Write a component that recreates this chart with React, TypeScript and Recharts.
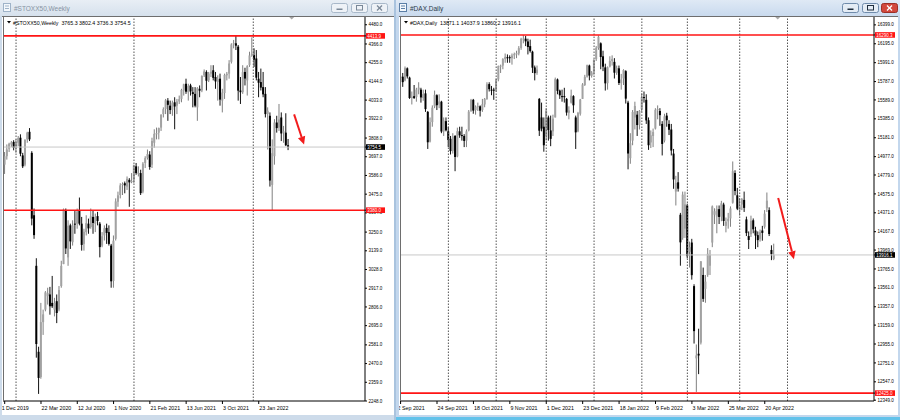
import React from 'react'
import { ComposedChart, Bar, XAxis, YAxis, ReferenceLine } from 'recharts'

type Ohlc = [number, number, number, number] // open, high, low, close

const FONT = '"Liberation Sans", Arial, sans-serif'

// #STOXX50 weekly, week of 1 Dec 2019 .. week of 24 Apr 2022
const stoxxBars: Ohlc[] = [
  [3650, 3725, 3595, 3700], [3700, 3770, 3680, 3740], [3745, 3780, 3725, 3774], [3770, 3790, 3755, 3782], [3785, 3795, 3735, 3750],
  [3750, 3800, 3720, 3780], [3780, 3820, 3760, 3808], [3810, 3830, 3700, 3715], [3705, 3720, 3630, 3640], [3650, 3800, 3640, 3798],
  [3800, 3845, 3780, 3840], [3845, 3867, 3790, 3800], [3720, 3730, 3290, 3330], [3350, 3390, 3210, 3232], [3050, 3095, 2505, 2586],
  [2540, 2570, 2290, 2385], [2390, 2830, 2380, 2716], [2716, 2790, 2640, 2762], [2790, 2900, 2780, 2893], [2870, 2920, 2820, 2888],
  [2880, 2925, 2760, 2810], [2830, 2990, 2800, 2810], [2790, 2860, 2750, 2830], [2840, 2880, 2710, 2770], [2790, 2930, 2780, 2906],
  [2930, 3080, 2920, 3050], [3060, 3390, 3060, 3384], [3380, 3390, 3120, 3153], [3100, 3320, 3050, 3288], [3290, 3300, 3150, 3195],
  [3190, 3320, 3170, 3290], [3300, 3375, 3240, 3296], [3300, 3390, 3270, 3372], [3380, 3455, 3290, 3300], [3300, 3340, 3140, 3174],
  [3180, 3270, 3140, 3252], [3250, 3350, 3230, 3303], [3300, 3330, 3240, 3272], [3280, 3390, 3270, 3343], [3340, 3380, 3240, 3304],
  [3300, 3360, 3250, 3340], [3345, 3370, 3290, 3316], [3300, 3310, 3100, 3161], [3170, 3250, 3160, 3225], [3230, 3290, 3200, 3273],
  [3275, 3300, 3180, 3245], [3250, 3290, 3170, 3180], [3170, 3180, 2920, 2958], [2960, 3230, 2920, 3199], [3210, 3450, 3200, 3432],
  [3430, 3490, 3400, 3468], [3470, 3540, 3450, 3527], [3530, 3545, 3470, 3535], [3540, 3550, 3480, 3527], [3520, 3580, 3500, 3566],
  [3560, 3570, 3400, 3545], [3550, 3600, 3540, 3553], [3560, 3650, 3540, 3645], [3640, 3660, 3590, 3600], [3600, 3640, 3580, 3602],
  [3600, 3620, 3470, 3481], [3490, 3665, 3480, 3656], [3660, 3700, 3630, 3689], [3690, 3740, 3680, 3713], [3710, 3730, 3620, 3636],
  [3650, 3810, 3630, 3790], [3780, 3860, 3750, 3833], [3830, 3870, 3800, 3837], [3840, 3870, 3800, 3867], [3870, 3950, 3850, 3945],
  [3950, 3990, 3930, 3979], [3980, 4040, 3950, 4032], [4030, 4045, 3910, 4005], [4000, 4030, 3950, 3974], [3975, 4030, 3940, 4018],
  [4020, 4050, 3860, 3995], [4000, 4040, 3950, 4025], [4025, 4060, 4010, 4039], [4040, 4100, 4020, 4093], [4090, 4130, 4060, 4127],
  [4130, 4160, 4070, 4083], [4080, 4130, 4030, 4117], [4120, 4130, 4060, 4084], [4080, 4110, 3990, 4069], [4070, 4110, 3990, 4000],
  [3990, 4110, 3910, 4103], [4100, 4120, 4050, 4089], [4090, 4180, 4080, 4176], [4180, 4215, 4170, 4203], [4200, 4210, 4090, 4148],
  [4150, 4200, 4140, 4190], [4190, 4240, 4170, 4201], [4210, 4240, 4150, 4165], [4170, 4200, 4100, 4144], [4140, 4180, 4030, 4158],
  [4160, 4190, 4000, 4036], [4030, 4100, 3960, 4078], [4075, 4190, 4040, 4182], [4180, 4200, 4150, 4189], [4190, 4270, 4160, 4250],
  [4260, 4370, 4250, 4363], [4365, 4390, 4340, 4370], [4370, 4415, 4330, 4356], [4350, 4360, 4030, 4089], [4090, 4170, 4010, 4080],
  [4080, 4240, 4070, 4199], [4200, 4225, 4120, 4161], [4150, 4240, 4060, 4234], [4240, 4320, 4230, 4298], [4300, 4405, 4290, 4309],
  [4300, 4340, 4230, 4273], [4280, 4330, 4150, 4166], [4160, 4200, 4050, 4136], [4140, 4220, 4090, 4107], [4110, 4200, 4050, 4067],
  [4070, 4110, 3930, 3950], [3950, 3990, 3740, 3970], [3940, 3960, 3520, 3556], [3530, 3800, 3380, 3718], [3700, 3920, 3650, 3900],
  [3900, 3940, 3840, 3867], [3870, 4010, 3850, 3918], [3930, 3960, 3790, 3835], [3840, 3880, 3780, 3848], [3840, 3955, 3760, 3765],
  [3765.3, 3802.4, 3736.3, 3754.5],
]

// #DAX daily, 2 Sep 2021 .. 26 Apr 2022
const daxBars: Ohlc[] = [
  [15830, 15880, 15780, 15840], [15840, 15880, 15730, 15781], [15800, 15950, 15790, 15932], [15930, 15940, 15820, 15843], [15830, 15840, 15600, 15610],
  [15620, 15680, 15540, 15623], [15630, 15750, 15600, 15609], [15620, 15720, 15570, 15701], [15700, 15780, 15650, 15722], [15700, 15720, 15560, 15616],
  [15610, 15700, 15580, 15652], [15660, 15700, 15460, 15490], [15460, 15470, 15060, 15132], [15140, 15400, 15130, 15349], [15350, 15530, 15300, 15506],
  [15520, 15690, 15500, 15644], [15640, 15650, 15480, 15532], [15540, 15650, 15500, 15573], [15570, 15580, 15230, 15248], [15250, 15400, 15200, 15365],
  [15360, 15400, 15250, 15261], [15250, 15300, 15080, 15156], [15170, 15200, 15000, 15037], [15040, 15230, 15010, 15195], [15200, 15210, 14820, 14973],
  [14980, 15290, 14970, 15252], [15250, 15300, 15180, 15207], [15210, 15300, 15150, 15199], [15200, 15220, 15080, 15147], [15150, 15270, 15080, 15250],
  [15260, 15480, 15250, 15463], [15470, 15600, 15460, 15588], [15590, 15600, 15440, 15474], [15480, 15530, 15430, 15516], [15520, 15560, 15470, 15522],
  [15520, 15530, 15410, 15473], [15480, 15600, 15460, 15543], [15540, 15610, 15510, 15600], [15600, 15780, 15590, 15757], [15760, 15780, 15680, 15705],
  [15700, 15740, 15640, 15696], [15700, 15720, 15590, 15689], [15690, 15820, 15680, 15806], [15810, 15960, 15790, 15955], [15950, 15970, 15880, 15959],
  [15960, 16040, 15920, 16030], [16030, 16090, 15990, 16054], [16050, 16080, 15990, 16047], [16050, 16070, 15990, 16040], [16040, 16090, 15970, 16068],
  [16070, 16100, 16030, 16084], [16080, 16120, 16040, 16094], [16090, 16170, 16070, 16148], [16150, 16260, 16130, 16248], [16250, 16290, 16200, 16251],
  [16250, 16280, 16170, 16221], [16220, 16250, 16080, 16160], [16170, 16240, 16100, 16116], [16110, 16120, 15880, 15937], [15940, 15960, 15800, 15878],
  [15880, 15960, 15860, 15917], [15600, 15610, 15200, 15257], [15400, 15560, 15250, 15280], [15300, 15400, 15030, 15100], [15200, 15500, 15150, 15473],
  [15400, 15420, 15150, 15263], [15260, 15420, 15090, 15169], [15250, 15430, 15200, 15386], [15400, 15830, 15400, 15813], [15810, 15820, 15650, 15687],
  [15690, 15700, 15600, 15639], [15630, 15700, 15570, 15623], [15630, 15720, 15560, 15621], [15600, 15610, 15420, 15453], [15450, 15520, 15380, 15476],
  [15560, 15700, 15550, 15636], [15630, 15640, 15450, 15531], [15400, 15420, 15060, 15239], [15250, 15460, 15240, 15447], [15440, 15600, 15420, 15593],
  [15600, 15770, 15600, 15756], [15750, 15860, 15740, 15838], [15840, 15970, 15830, 15964], [15960, 15970, 15800, 15852], [15850, 15900, 15830, 15885],
  [15890, 16030, 15860, 16020], [16030, 16170, 16010, 16152], [16150, 16285, 16130, 16271], [16200, 16210, 15920, 16052], [16060, 16120, 15900, 15948],
  [15940, 15980, 15690, 15768], [15770, 15950, 15700, 15942], [15950, 16060, 15940, 16010], [16010, 16070, 15960, 16031], [16000, 16040, 15820, 15883],
  [15880, 15960, 15860, 15933], [15930, 15960, 15750, 15772], [15770, 15870, 15700, 15809], [15820, 15920, 15750, 15912], [15900, 15910, 15550, 15603],
  [15560, 15580, 14840, 15011], [14960, 15230, 14900, 15123], [15150, 15480, 15100, 15459], [15400, 15570, 15270, 15524], [15430, 15470, 15200, 15318],
  [15320, 15480, 15270, 15471], [15490, 15660, 15460, 15619], [15620, 15680, 15560, 15613], [15590, 15650, 15330, 15368], [15370, 15400, 15050, 15100],
  [15130, 15260, 15070, 15207], [15200, 15280, 15080, 15242], [15280, 15500, 15270, 15482], [15490, 15530, 15380, 15490], [15470, 15500, 15310, 15425],
  [15330, 15360, 14990, 15114], [15150, 15440, 15130, 15412], [15420, 15450, 15300, 15370], [15330, 15370, 15210, 15267], [15270, 15330, 14990, 15043],
  [15010, 15060, 14630, 14731], [14600, 14770, 14450, 14693], [14700, 14810, 14600, 14631], [14350, 14370, 13800, 14052], [14100, 14600, 14080, 14567],
  [14200, 14600, 14100, 14461], [14450, 14470, 13880, 13904], [13950, 14060, 13780, 14000], [14050, 14090, 13650, 13698], [13580, 13600, 12960, 13094],
  [12800, 12950, 12438, 12832], [12850, 13120, 12630, 12831], [12970, 13850, 12950, 13847], [13700, 13780, 13410, 13442], [13550, 13700, 13400, 13628],
  [13700, 13990, 13680, 13929], [13800, 13970, 13700, 13917], [14050, 14450, 14000, 14440], [14350, 14420, 14250, 14388], [14330, 14450, 14150, 14413],
  [14410, 14450, 14250, 14326], [14330, 14500, 14280, 14474], [14460, 14480, 14230, 14283], [14230, 14320, 14160, 14274], [14280, 14370, 14200, 14306],
  [14310, 14440, 14220, 14418], [14480, 14925, 14470, 14820], [14800, 14830, 14560, 14606], [14560, 14640, 14400, 14415], [14400, 14530, 14340, 14446],
  [14460, 14530, 14400, 14518], [14510, 14600, 14380, 14424], [14300, 14330, 14120, 14152], [14120, 14170, 13980, 14078], [14140, 14340, 14110, 14284],
  [14290, 14310, 14150, 14193], [14180, 14220, 13980, 14125], [14130, 14170, 14000, 14076], [14090, 14190, 14060, 14163], [14180, 14230, 14070, 14154],
  [14220, 14400, 14200, 14362], [14420, 14590, 14380, 14502], [14400, 14430, 14120, 14142], [13970, 14020, 13860, 13924], [13871.1, 14037.9, 13860.2, 13916.1],
]

const stoxxPriceTicks = [4480, 4366, 4255, 4144, 4033, 3922, 3808, 3697, 3586, 3475, 3364, 3250, 3139, 3028, 2917, 2806, 2695, 2581, 2470, 2359, 2248]
const daxPriceTicks = [16399, 16195, 15991, 15787, 15589, 15385, 15181, 14977, 14779, 14575, 14371, 14167, 13969, 13765, 13561, 13357, 13159, 12955, 12751, 12547, 12349]

const stoxxDateTicks = [0, 16, 32, 48, 64, 80, 96, 112]
const stoxxDateLabels = ['1 Dec 2019', '22 Mar 2020', '12 Jul 2020', '1 Nov 2020', '21 Feb 2021', '13 Jun 2021', '3 Oct 2021', '23 Jan 2022']
const daxDateTicks = [0, 16, 32, 48, 64, 80, 96, 112, 128, 144, 160]
const daxDateLabels = ['2 Sep 2021', '24 Sep 2021', '18 Oct 2021', '9 Nov 2021', '1 Dec 2021', '23 Dec 2021', '18 Jan 2022', '9 Feb 2022', '3 Mar 2022', '25 Mar 2022', '20 Apr 2022']

// period separators (bar index)
const stoxxSeparators = [5, 57, 109.6]
const daxSeparators = [21, 42, 64, 85, 106, 126, 149, 170]

// horizontal levels drawn by hand
const stoxxLevels = [4413.9, 3380.0]
const daxLevels = [16290.3, 12425.0]

// trend arrows: [bar index, price] start -> end
const stoxxArrow = [{ x: 127.6, y: 3948 }, { x: 132, y: 3769 }]
const daxArrow = [{ x: 165.9, y: 14532 }, { x: 172.8, y: 13870 }]

const LEVEL_RED = '#ff1414'

function Candle(props: any) {
  const { x, y, width, height, payload } = props
  if (!payload || x == null || y == null) return null
  const { o, h, l, c } = payload
  const top = height < 0 ? y + height : y
  const span = Math.abs(height)
  const cx = x + width / 2
  const toY = (v: number) => (h === l ? top : top + ((h - v) / (h - l)) * span)
  const bull = c >= o
  const by = Math.min(toY(o), toY(c))
  const bh = Math.max(1, Math.abs(toY(o) - toY(c)))
  return (
    <g>
      <line x1={cx} x2={cx} y1={top} y2={top + span} stroke={bull ? '#808080' : '#111'} strokeWidth={1} />
      <rect x={cx - 1} y={by} width={2} height={bh} fill={bull ? '#a2a2a2' : '#000'} />
    </g>
  )
}

function Arrow(p: any) {
  const { x1, y1, x2, y2 } = p
  if (x1 == null) return null
  const dx = x2 - x1
  const dy = y2 - y1
  const len = Math.hypot(dx, dy) || 1
  const ux = dx / len
  const uy = dy / len
  const hl = 8
  const hw = 3.8
  const bx = x2 - ux * hl
  const by = y2 - uy * hl
  return (
    <g>
      <line x1={x1} y1={y1} x2={bx} y2={by} stroke="#f21c1c" strokeWidth={2} />
      <polygon points={`${x2},${y2} ${bx - uy * hw},${by + ux * hw} ${bx + uy * hw},${by - ux * hw}`} fill="#f21c1c" />
    </g>
  )
}

type ChartProps = {
  bars: Ohlc[]
  width: number
  height: number
  marginLeft: number
  axisWidth: number
  xDomain: [number, number]
  yDomain: [number, number]
  priceTicks: number[]
  dateTicks: number[]
  dateLabels: string[]
  separators: number[]
  levels: number[]
  arrow: { x: number; y: number }[]
  tagWidth: number
}

function CandleChart(props: ChartProps) {
  const { bars, width, height, marginLeft, axisWidth, xDomain, yDomain, priceTicks, dateTicks, dateLabels, separators, levels, arrow, tagWidth } = props
  const data = bars.map(([o, h, l, c], i) => ({ i, o, h, l, c, range: [l, h] }))
  const last = bars[bars.length - 1][3]

  // tags go last so they sit on top of the plain price labels
  const tags: { value: number; fill: string }[] = [{ value: last, fill: '#000' }, ...levels.map((v) => ({ value: v, fill: LEVEL_RED }))]
  const yTicks = [...priceTicks, ...tags.map((t) => t.value)]

  const priceTick = (p: any) => {
    const v = p.payload.value
    const tag = tags.find((t) => t.value === v)
    if (tag) {
      return (
        <g>
          <rect x={p.x - 2.5} y={p.y - 2.8} width={tagWidth} height={5.6} fill={tag.fill} />
          <text x={p.x - 1.2} y={p.y} dy="0.36em" fontSize={4.5} fill="#fff" fontFamily={FONT}>
            {v.toFixed(1)}
          </text>
        </g>
      )
    }
    return (
      <text x={p.x} y={p.y} dy="0.36em" fontSize={4.5} fill="#000" fontFamily={FONT}>
        {v.toFixed(1)}
      </text>
    )
  }

  const dateTick = (p: any) => {
    const k = dateTicks.indexOf(p.payload.value)
    return (
      <text x={p.x + (k === 0 ? -3 : 0.6)} y={p.y} dy="0.71em" fontSize={5.3} fill="#000" fontFamily={FONT} textAnchor="start">
        {dateLabels[k]}
      </text>
    )
  }

  return (
    <ComposedChart width={width} height={height} data={data} margin={{ top: 1, right: 0, bottom: 0, left: marginLeft }}>
      <XAxis
        type="number"
        dataKey="i"
        domain={xDomain}
        allowDataOverflow
        ticks={dateTicks}
        interval={0}
        height={14}
        tickSize={3}
        tickMargin={2}
        axisLine={{ stroke: '#000' }}
        tickLine={{ stroke: '#000' }}
        tick={dateTick}
      />
      <YAxis
        type="number"
        orientation="right"
        domain={yDomain}
        allowDataOverflow
        ticks={yTicks}
        interval={0}
        width={axisWidth}
        tickSize={2}
        tickMargin={1.5}
        axisLine={{ stroke: '#000' }}
        tickLine={{ stroke: '#000' }}
        tick={priceTick}
      />
      {separators.map((s) => (
        <ReferenceLine key={'s' + s} x={s} stroke="#555" strokeDasharray="1.5 1.5" ifOverflow="visible" />
      ))}
      <ReferenceLine y={last} stroke="#c8c8c8" />
      <Bar dataKey="range" barSize={2} shape={(p: any) => <Candle {...p} />} isAnimationActive={false} />
      {levels.map((v) => (
        <ReferenceLine key={'l' + v} y={v} stroke={LEVEL_RED} strokeWidth={1.6} />
      ))}
      <ReferenceLine segment={arrow} ifOverflow="visible" shape={(p: any) => <Arrow {...p} />} />
    </ComposedChart>
  )
}

function TitleBar(props: { title: string; active: boolean; width: number; buttons: number[] }) {
  const { title, active, width, buttons } = props
  const bg = active ? 'linear-gradient(#dfe9f5, #c9daee)' : 'linear-gradient(#e8eef5, #d6e1ed)'
  const border = active ? '#6f8bab' : '#a8b8c9'
  const glyph = active ? '#1e2d3d' : '#7a8898'
  return (
    <div style={{ position: 'absolute', left: 0, top: 0, width, height: 16, background: bg }}>
      <svg width={width} height={16} style={{ position: 'absolute', left: 0, top: 0 }}>
        <rect x={3.5} y={3.5} width={7} height={8} fill="#f4f8fc" stroke={active ? '#5a7ea6' : '#9fb3c8'} />
        <line x1={5} x2={9} y1={6} y2={6} stroke={active ? '#5a7ea6' : '#9fb3c8'} />
        <line x1={5} x2={9} y1={8.5} y2={8.5} stroke={active ? '#5a7ea6' : '#9fb3c8'} />
        <text x={14} y={10.5} fontSize={6.5} fontFamily={FONT} fill={active ? '#2b3a4a' : '#8693a2'}>
          {title}
        </text>
        {buttons.map((bx, k) => {
          const isClose = k === 2
          const fill = isClose && active ? '#d2483d' : active ? '#e4ecf5' : '#eef2f7'
          const st = isClose && active ? '#9b2f27' : border
          const g = isClose && active ? '#fff' : glyph
          return (
            <g key={k}>
              <rect x={bx + 0.5} y={3.5} width={16} height={9} rx={2} fill={fill} stroke={st} />
              {k === 0 && <rect x={bx + 5.5} y={8.5} width={6} height={1.5} fill={g} />}
              {k === 1 && <rect x={bx + 5.5} y={5.5} width={6} height={4.5} fill="none" stroke={g} />}
              {k === 2 && (
                <g stroke={g} strokeWidth={1.2}>
                  <line x1={bx + 6} y1={5.5} x2={bx + 11} y2={10.5} />
                  <line x1={bx + 11} y1={5.5} x2={bx + 6} y2={10.5} />
                </g>
              )}
            </g>
          )
        })}
      </svg>
    </div>
  )
}

function ChartHeader(props: { text: string; width: number; height: number; frameX: number; shiftX: number }) {
  const { text, width, height, frameX, shiftX } = props
  return (
    <svg width={width} height={height} style={{ position: 'absolute', left: 0, top: 0, pointerEvents: 'none' }}>
      <line x1={0} x2={width} y1={0.5} y2={0.5} stroke="#6e6e6e" />
      <line x1={frameX + 0.5} x2={frameX + 0.5} y1={0} y2={height - 14} stroke="#6e6e6e" />
      <polygon points={`${frameX + 4},${5} ${frameX + 8},${5} ${frameX + 6},${7.5}`} fill="#000" />
      <text x={frameX + 10} y={8.6} fontSize={5.3} fontFamily={FONT} fill="#000" xmlSpace="preserve">
        {text}
      </text>
      <polygon points={`${shiftX - 2.5},${1} ${shiftX + 2.5},${1} ${shiftX},${3.5}`} fill="#a8a8a8" />
    </svg>
  )
}

export default function App() {
  return (
    <div style={{ position: 'absolute', left: 0, top: 0, width: 900, height: 420, overflow: 'hidden', background: '#a9c3de' }}>
      {/* left window */}
      <div style={{ position: 'absolute', left: 0, top: 0, width: 394, height: 420, background: '#cddbea' }}>
        <TitleBar title="#STOXX50,Weekly" active={false} width={394} buttons={[331, 351, 371]} />
        <div style={{ position: 'absolute', left: 2, top: 16, width: 392, height: 399, background: '#fff' }}>
          <CandleChart
            bars={stoxxBars}
            width={392}
            height={399}
            marginLeft={1}
            axisWidth={29}
            xDomain={[-0.75, 158.86]}
            yDomain={[2248, 4526]}
            priceTicks={stoxxPriceTicks}
            dateTicks={stoxxDateTicks}
            dateLabels={stoxxDateLabels}
            separators={stoxxSeparators}
            levels={stoxxLevels}
            arrow={stoxxArrow}
            tagWidth={19}
          />
          <ChartHeader text="#STOXX50,Weekly  3765.3 3802.4 3736.3 3754.5" width={392} height={399} frameX={1} shiftX={289.7} />
        </div>
      </div>
      {/* right window */}
      <div style={{ position: 'absolute', left: 396, top: 0, width: 504, height: 420, background: '#c3d7ed' }}>
        <TitleBar title="#DAX,Daily" active={true} width={504} buttons={[446, 466, 485]} />
        <div style={{ position: 'absolute', left: 3, top: 16, width: 499, height: 399, background: '#fff' }}>
          <CandleChart
            bars={daxBars}
            width={499}
            height={399}
            marginLeft={1}
            axisWidth={24}
            xDomain={[-0.26, 208.0]}
            yDomain={[12340, 16484]}
            priceTicks={daxPriceTicks}
            dateTicks={daxDateTicks}
            dateLabels={daxDateLabels}
            separators={daxSeparators}
            levels={daxLevels}
            arrow={daxArrow}
            tagWidth={20}
          />
          <ChartHeader text="#DAX,Daily  13871.1 14037.9 13860.2 13916.1" width={499} height={399} frameX={1} shiftX={378.7} />
        </div>
        <div style={{ position: 'absolute', left: 0, top: 417, width: 504, height: 3, background: '#62c2ea' }} />
      </div>
    </div>
  )
}
